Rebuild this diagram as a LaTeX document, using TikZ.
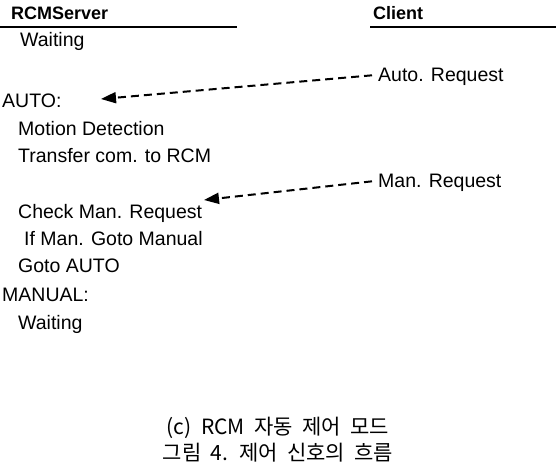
\documentclass[tikz,border=0pt]{standalone}
\usepackage{fontspec}
\setmainfont{Liberation Sans}
\newfontfamily\korfont[WordSpace=2]{Noto Sans CJK KR}
\usetikzlibrary{arrows.meta}
\tikzset{
  txtline/.style={inner sep=0pt, anchor=base west, font=\fontsize{19.5}{22}\selectfont},
  colhead/.style={inner sep=0pt, anchor=base west, font=\fontsize{18}{20}\selectfont\bfseries},
  req/.style={line width=2pt, dash pattern=on 8pt off 5pt, -{Triangle[length=15pt,width=11pt]}},
  captext/.style={inner sep=0pt, anchor=base, font=\korfont\fontsize{21}{24}\selectfont}
}
\begin{document}
\begin{tikzpicture}[x=1pt,y=-1pt]
\useasboundingbox (0,0) rectangle (556,464);

% column heads
\node[colhead] (server) at (11,19) {RCMServer};
\node[colhead] (client) at (373,19) {Client};
\draw[line width=1.6pt] (0,27) -- (237,27);
\draw[line width=1.6pt] (370,27) -- (556,27);

% server side
\foreach \x/\y/\n/\t in {20/46/wait1/Waiting, 2/107/auto/AUTO:, 18/135/motion/Motion Detection,
    18/162/transfer/Transfer com. to RCM, 18/218/check/Check Man. Request,
    24/245/ifman/If Man. Goto Manual, 18/272/goto/Goto AUTO, 2/301/manual/MANUAL:,
    18/329/wait2/Waiting} {
    \node[txtline] (\n) at (\x,\y) {\t};
}

% client side
\node[txtline] (autoreq) at (378,81) {Auto. Request};
\node[txtline] (manreq) at (378,187) {Man. Request};

\coordinate (autotip) at (101,99);
\coordinate (mantip) at (204,200);
\draw[req] ([xshift=-6pt,yshift=1pt]autoreq.west) -- (autotip);
\draw[req] ([xshift=-6pt,yshift=1pt]manreq.west) -- (mantip);

% caption
\node[captext] (sub) at (278,434) {(c) RCM 자동 제어 모드};
\node[captext] (fig) at (278,460) {그림 4. 제어 신호의 흐름};
\end{tikzpicture}
\end{document}
